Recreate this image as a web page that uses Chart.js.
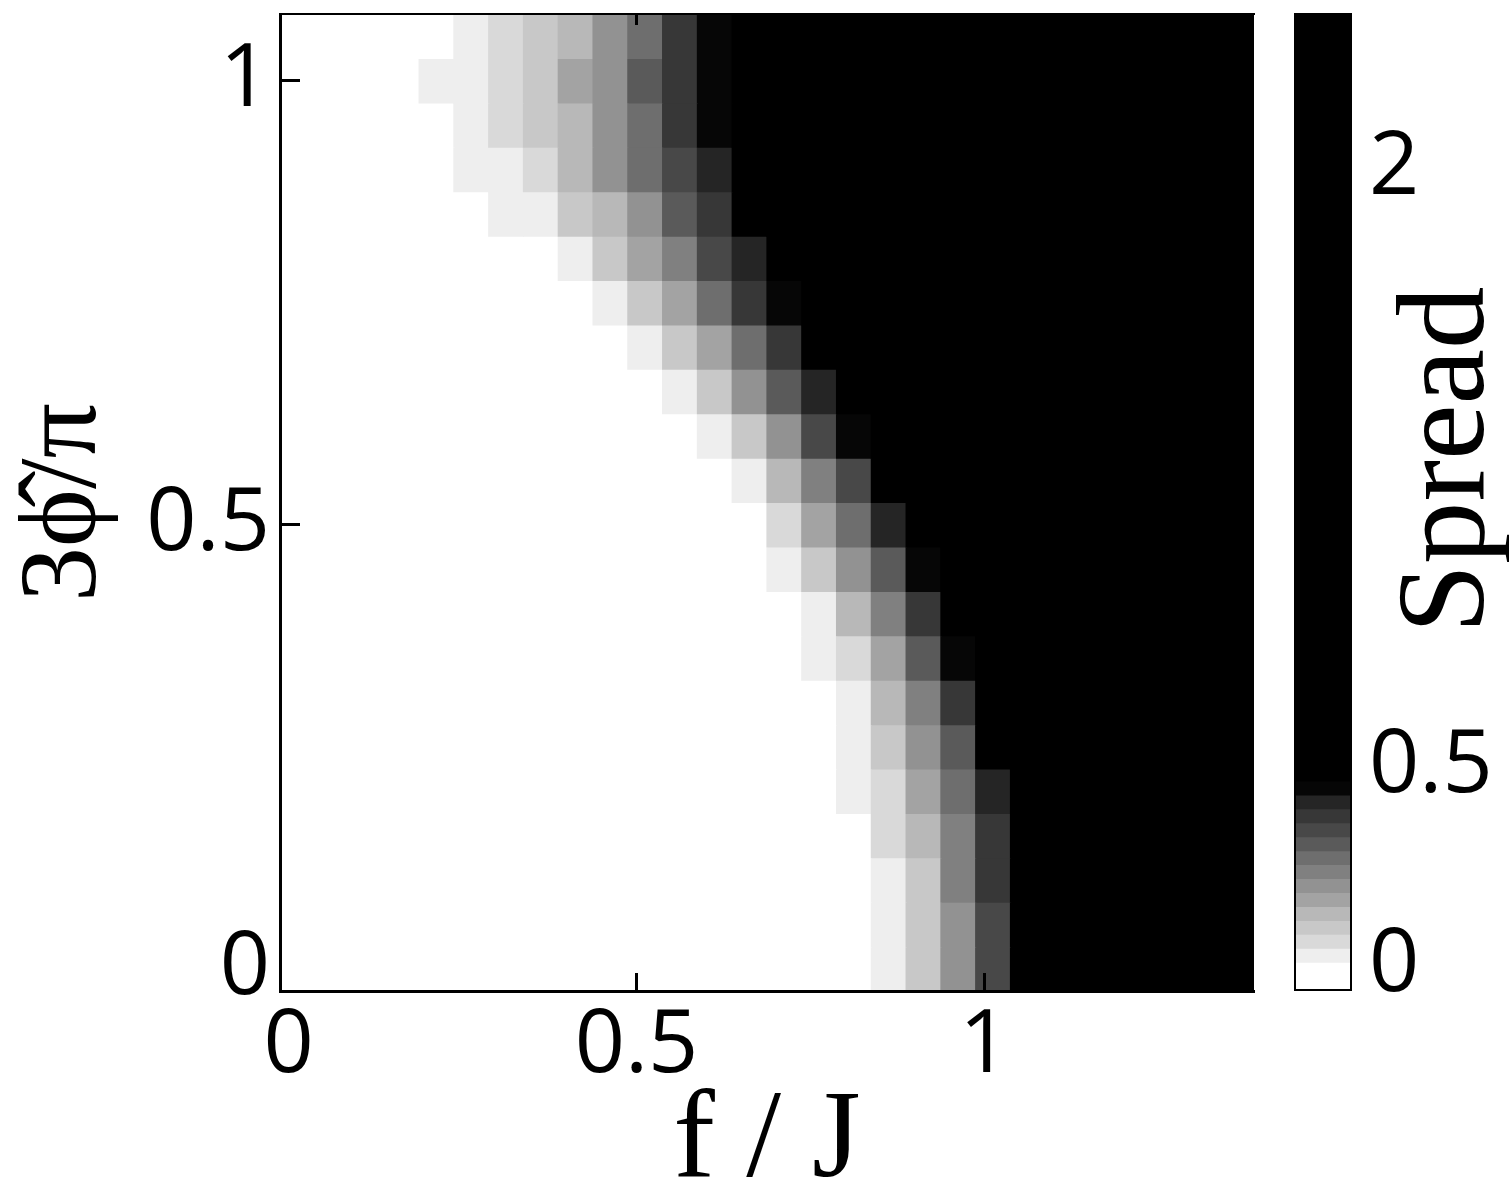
<!DOCTYPE html>
<html>
<head>
<meta charset="utf-8">
<script src="https://cdn.jsdelivr.net/npm/chart.js@4.4.1/dist/chart.umd.min.js"></script>
<style>
  html, body { margin: 0; padding: 0; background: #fff; overflow: hidden; }
  #wrap { position: relative; width: 1509px; height: 1195px; }
  #heat { position: absolute; left: 0; top: 0; }
  #bar { position: absolute; left: 1260px; top: 0; }
</style>
</head>
<body>
<div id="wrap">
  <canvas id="heat" width="1290" height="1195"></canvas>
  <canvas id="bar" width="249" height="1195"></canvas>
</div>
<script>
// column centres (f / J) and row centres (3 phi / pi)
const fValues = [0.0125, 0.0625, 0.1125, 0.1625, 0.2125, 0.2625, 0.3125, 0.3625, 0.4125, 0.4625,
  0.5125, 0.5625, 0.6125, 0.6625, 0.7125, 0.7625, 0.8125, 0.8625, 0.9125, 0.9625,
  1.0125, 1.0625, 1.1125, 1.1625, 1.2125, 1.2625, 1.3125, 1.3625];
const phiValues = [0, 0.05, 0.1, 0.15, 0.2, 0.25, 0.3, 0.35, 0.4, 0.45, 0.5,
  0.55, 0.6, 0.65, 0.7, 0.75, 0.8, 0.85, 0.9, 0.95, 1, 1.05];

// spread per cell, one row per phi value (bottom row first)
const spreadRows = [
  [0, 0, 0, 0, 0, 0, 0, 0, 0, 0, 0, 0, 0, 0, 0, 0, 0, 0.03, 0.10, 0.20, 0.34, 2, 2, 2, 2, 2, 2, 2],
  [0, 0, 0, 0, 0, 0, 0, 0, 0, 0, 0, 0, 0, 0, 0, 0, 0, 0.03, 0.10, 0.20, 0.34, 2, 2, 2, 2, 2, 2, 2],
  [0, 0, 0, 0, 0, 0, 0, 0, 0, 0, 0, 0, 0, 0, 0, 0, 0, 0.03, 0.10, 0.24, 0.38, 2, 2, 2, 2, 2, 2, 2],
  [0, 0, 0, 0, 0, 0, 0, 0, 0, 0, 0, 0, 0, 0, 0, 0, 0, 0.06, 0.13, 0.24, 0.38, 2, 2, 2, 2, 2, 2, 2],
  [0, 0, 0, 0, 0, 0, 0, 0, 0, 0, 0, 0, 0, 0, 0, 0, 0.03, 0.06, 0.17, 0.27, 0.41, 2, 2, 2, 2, 2, 2, 2],
  [0, 0, 0, 0, 0, 0, 0, 0, 0, 0, 0, 0, 0, 0, 0, 0, 0.03, 0.10, 0.20, 0.31, 2, 2, 2, 2, 2, 2, 2, 2],
  [0, 0, 0, 0, 0, 0, 0, 0, 0, 0, 0, 0, 0, 0, 0, 0, 0.03, 0.13, 0.24, 0.38, 2, 2, 2, 2, 2, 2, 2, 2],
  [0, 0, 0, 0, 0, 0, 0, 0, 0, 0, 0, 0, 0, 0, 0, 0.03, 0.06, 0.17, 0.31, 0.45, 2, 2, 2, 2, 2, 2, 2, 2],
  [0, 0, 0, 0, 0, 0, 0, 0, 0, 0, 0, 0, 0, 0, 0, 0.03, 0.13, 0.24, 0.38, 2, 2, 2, 2, 2, 2, 2, 2, 2],
  [0, 0, 0, 0, 0, 0, 0, 0, 0, 0, 0, 0, 0, 0, 0.03, 0.10, 0.20, 0.31, 0.45, 2, 2, 2, 2, 2, 2, 2, 2, 2],
  [0, 0, 0, 0, 0, 0, 0, 0, 0, 0, 0, 0, 0, 0, 0.06, 0.17, 0.27, 0.41, 2, 2, 2, 2, 2, 2, 2, 2, 2, 2],
  [0, 0, 0, 0, 0, 0, 0, 0, 0, 0, 0, 0, 0, 0.03, 0.13, 0.24, 0.34, 2, 2, 2, 2, 2, 2, 2, 2, 2, 2, 2],
  [0, 0, 0, 0, 0, 0, 0, 0, 0, 0, 0, 0, 0.03, 0.10, 0.20, 0.34, 0.45, 2, 2, 2, 2, 2, 2, 2, 2, 2, 2, 2],
  [0, 0, 0, 0, 0, 0, 0, 0, 0, 0, 0, 0.03, 0.10, 0.20, 0.31, 0.41, 2, 2, 2, 2, 2, 2, 2, 2, 2, 2, 2, 2],
  [0, 0, 0, 0, 0, 0, 0, 0, 0, 0, 0.03, 0.10, 0.17, 0.27, 0.38, 2, 2, 2, 2, 2, 2, 2, 2, 2, 2, 2, 2, 2],
  [0, 0, 0, 0, 0, 0, 0, 0, 0, 0.03, 0.10, 0.17, 0.27, 0.38, 0.45, 2, 2, 2, 2, 2, 2, 2, 2, 2, 2, 2, 2, 2],
  [0, 0, 0, 0, 0, 0, 0, 0, 0.03, 0.10, 0.17, 0.24, 0.34, 0.41, 2, 2, 2, 2, 2, 2, 2, 2, 2, 2, 2, 2, 2, 2],
  [0, 0, 0, 0, 0, 0, 0.03, 0.03, 0.10, 0.13, 0.20, 0.31, 0.38, 2, 2, 2, 2, 2, 2, 2, 2, 2, 2, 2, 2, 2, 2, 2],
  [0, 0, 0, 0, 0, 0.03, 0.03, 0.06, 0.13, 0.20, 0.27, 0.34, 0.41, 2, 2, 2, 2, 2, 2, 2, 2, 2, 2, 2, 2, 2, 2, 2],
  [0, 0, 0, 0, 0, 0.03, 0.06, 0.10, 0.13, 0.20, 0.27, 0.38, 0.45, 2, 2, 2, 2, 2, 2, 2, 2, 2, 2, 2, 2, 2, 2, 2],
  [0, 0, 0, 0, 0.03, 0.03, 0.06, 0.10, 0.17, 0.20, 0.31, 0.38, 0.45, 2, 2, 2, 2, 2, 2, 2, 2, 2, 2, 2, 2, 2, 2, 2],
  [0, 0, 0, 0, 0, 0.03, 0.06, 0.10, 0.13, 0.20, 0.27, 0.38, 0.45, 2, 2, 2, 2, 2, 2, 2, 2, 2, 2, 2, 2, 2, 2, 2],
];

// colour map: grey steps between these spread edges, black above the last one
const levelEdges = [-0.06, 0.01, 0.045, 0.08, 0.115, 0.15, 0.185, 0.22, 0.255, 0.29, 0.325, 0.36, 0.395, 0.43, 0.465];
const levelGrays = ['#ffffff', '#eeeeee', '#d9d9d9', '#c8c8c8', '#b8b8b8', '#a3a3a3', '#929292',
  '#808080', '#6e6e6e', '#5a5a5a', '#484848', '#373737', '#252525', '#060606'];
const spreadMax = 2.39;

const fTicks = [0, 0.5, 1];
const phiTicks = [0, 0.5, 1];
const spreadTicks = [0, 0.5, 2];

const CELL_HALF = 0.025;
const TICK_FONT = { family: "'Liberation Sans Narrow', 'Open Sans', sans-serif", size: 88 };
const SERIF = "'Liberation Serif', 'DejaVu Serif', serif";

function grayFor(v) {
  for (let i = 0; i < levelGrays.length; i += 1) {
    if (v < levelEdges[i + 1]) return levelGrays[i];
  }
  return '#000000';
}

function fixedTicks(values) {
  return (scale) => {
    scale.ticks = values.map((value) => ({ value }));
  };
}

// force axis thickness and drop the label overhang padding chart.js adds
function fixedSize(prop, size) {
  return (scale) => {
    scale[prop] = size;
    scale.paddingTop = 0;
    scale.paddingBottom = 0;
    scale.paddingLeft = 0;
    scale.paddingRight = 0;
  };
}

// the original has no tick mark at the origin, only its label
const tickMarkColor = (ctx) => (ctx.tick && ctx.tick.value === 0 ? 'rgba(0,0,0,0)' : '#000');

const cells = [];
spreadRows.forEach((row, r) => {
  row.forEach((v, c) => {
    cells.push({ x: [fValues[c] - CELL_HALF, fValues[c] + CELL_HALF], y: phiValues[r], v });
  });
});

new Chart(document.getElementById('heat'), {
  type: 'bar',
  data: {
    datasets: [{
      data: cells,
      backgroundColor: (ctx) => grayFor(ctx.raw.v),
      borderWidth: 0,
      barPercentage: 1,
      categoryPercentage: 1,
      inflateAmount: 0.6,
      clip: 0,
    }],
  },
  options: {
    indexAxis: 'y',
    responsive: false,
    animation: false,
    events: [],
    layout: { padding: { left: 0, top: 14, right: 36, bottom: 0 } },
    plugins: { legend: { display: false }, tooltip: { enabled: false } },
    scales: {
      x: {
        type: 'linear',
        position: 'bottom',
        min: -0.0125,
        max: 1.3875,
        afterBuildTicks: fixedTicks(fTicks),
        afterFit: fixedSize('height', 204),
        grid: { drawOnChartArea: false, tickLength: -18, tickWidth: 3, tickColor: tickMarkColor, offset: false, z: 1 },
        border: { color: '#000', width: 3, z: 1 },
        ticks: { color: '#000', font: TICK_FONT, padding: 21, maxRotation: 0, autoSkip: false, callback: (v) => String(v) },
        title: {
          display: true,
          text: 'f / J',
          color: '#000',
          font: { family: SERIF, size: 125, lineHeight: 0.8 },
          padding: { top: 0, bottom: 2 },
        },
      },
      xTop: {
        type: 'linear',
        position: 'top',
        min: -0.0125,
        max: 1.3875,
        afterBuildTicks: fixedTicks(fTicks),
        afterFit: fixedSize('height', 0),
        grid: { drawOnChartArea: false, tickLength: -11, tickWidth: 3, tickColor: tickMarkColor, offset: false, z: 1 },
        border: { color: '#000', width: 2, z: 1 },
        ticks: { display: false },
      },
      y: {
        type: 'linear',
        position: 'left',
        min: -0.025,
        max: 1.075,
        offset: false,
        afterBuildTicks: fixedTicks(phiTicks),
        afterFit: fixedSize('width', 280),
        grid: { drawOnChartArea: false, tickLength: -20, tickWidth: 3, tickColor: tickMarkColor, offset: false, z: 1 },
        border: { color: '#000', width: 3, z: 1 },
        ticks: { color: '#000', font: TICK_FONT, padding: 30, autoSkip: false, callback: (v) => String(v) },
        title: {
          display: true,
          text: '3ϕ̂/π',
          color: '#000',
          font: { family: SERIF, size: 110, lineHeight: 1.2 },
          padding: 0,
        },
      },
    },
  },
});

const colorbarFrame = {
  id: 'colorbarFrame',
  afterDatasetsDraw(chart) {
    const { ctx, chartArea: a } = chart;
    ctx.save();
    ctx.strokeStyle = '#000';
    ctx.lineWidth = 2;
    ctx.strokeRect(a.left, a.top, a.right - a.left, a.bottom - a.top);
    ctx.restore();
  },
  afterDraw(chart) {
    const { ctx, chartArea: a } = chart;
    ctx.save();
    ctx.translate(a.right + 132, (a.top + a.bottom) / 2 - 42);
    ctx.rotate(-Math.PI / 2);
    ctx.font = `125px ${SERIF}`;
    ctx.fillStyle = '#000';
    ctx.textAlign = 'center';
    ctx.textBaseline = 'alphabetic';
    ctx.fillText('Spread', 0, 0);
    ctx.restore();
  },
};

const bands = levelGrays.map((gray, i) => ({ x: 'Spread', y: [levelEdges[i], levelEdges[i + 1]], gray }));
bands.push({ x: 'Spread', y: [levelEdges[levelEdges.length - 1], spreadMax], gray: '#000000' });

new Chart(document.getElementById('bar'), {
  type: 'bar',
  data: {
    labels: ['Spread'],
    datasets: [{
      data: bands,
      backgroundColor: bands.map((b) => b.gray),
      borderWidth: 0,
      barPercentage: 1,
      categoryPercentage: 1,
      inflateAmount: 0.6,
    }],
  },
  options: {
    responsive: false,
    animation: false,
    events: [],
    layout: { padding: { left: 35, top: 14, right: 0, bottom: 205 } },
    plugins: { legend: { display: false }, tooltip: { enabled: false } },
    scales: {
      x: { display: false },
      y: {
        type: 'linear',
        position: 'right',
        min: levelEdges[0],
        max: spreadMax,
        afterBuildTicks: fixedTicks(spreadTicks),
        afterFit: fixedSize('width', 158),
        grid: { display: false },
        border: { display: false },
        ticks: { color: '#000', font: TICK_FONT, padding: 10, autoSkip: false, callback: (v) => String(v) },
      },
    },
  },
  plugins: [colorbarFrame],
});
</script>
</body>
</html>
